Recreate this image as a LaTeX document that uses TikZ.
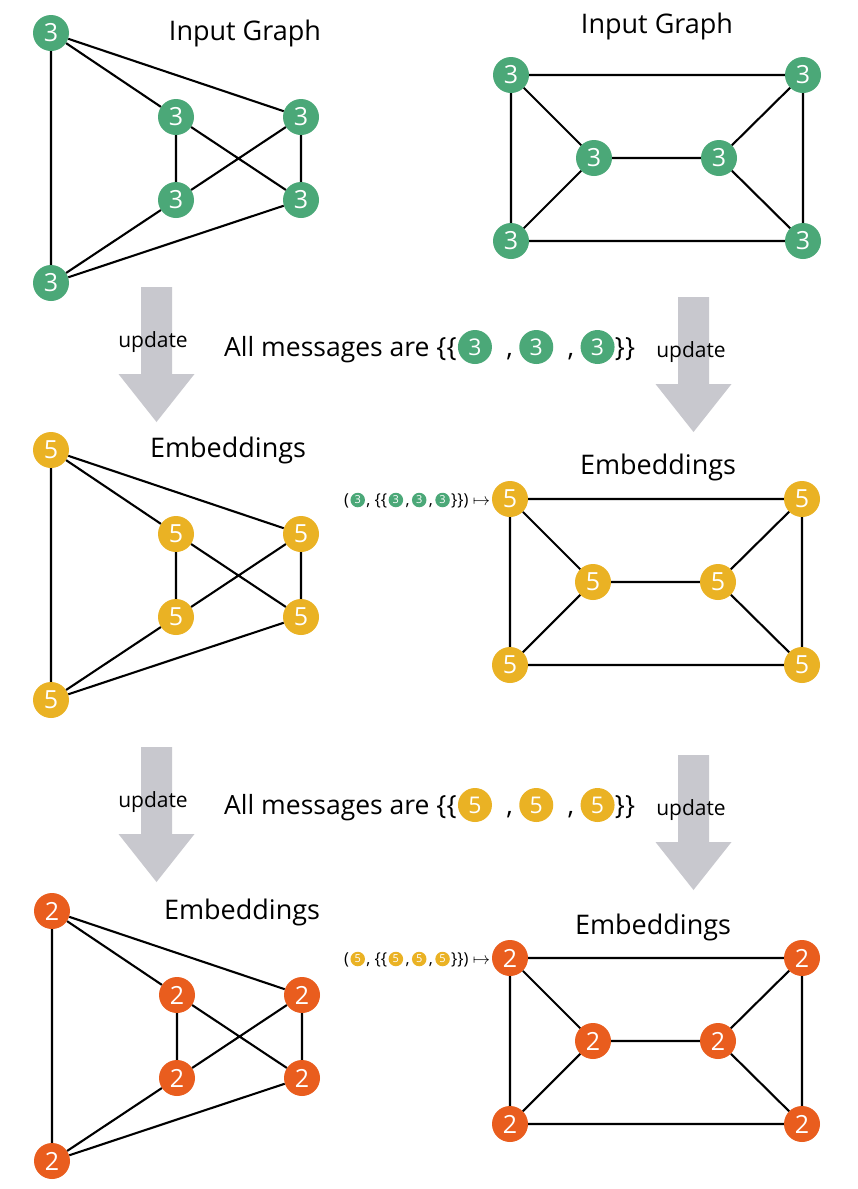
\documentclass[tikz,border=0pt]{standalone}
\usepackage{fontspec}
\setmainfont{Open Sans}
\definecolor{ngreen}{RGB}{75,168,120}
\definecolor{nyellow}{RGB}{234,178,36}
\definecolor{norange}{RGB}{233,93,30}
\definecolor{agray}{RGB}{200,200,206}
\tikzset{
  gn/.style={circle, inner sep=0pt, minimum size=36pt, text=white, font=\fontsize{25}{30}\selectfont},
  edge/.style={line width=2.1pt, black},
  title/.style={inner sep=0pt, font=\fontsize{27}{32}\selectfont},
  upd/.style={inner sep=0pt, font=\fontsize{21}{25}\selectfont},
  msg/.style={inner sep=0pt, font=\fontsize{26.5}{32}\selectfont},
  mcomma/.style={inner ysep=0pt, inner xsep=6pt, font=\fontsize{26.5}{32}\selectfont},
  mcir/.style={circle, inner sep=0pt, minimum size=34pt, text=white, font=\fontsize{23}{28}\selectfont},
  smsg/.style={inner sep=0pt, font=\fontsize{16.5}{20}\selectfont},
  scir/.style={circle, inner sep=0pt, minimum size=14.5pt, text=white, font=\fontsize{11}{13}\selectfont},
  pics/lgraph/.style 2 args={code={
    \node[gn, fill=#1] (-a) at (0,0) {#2};
    \node[gn, fill=#1] (-b) at (125,84) {#2};
    \node[gn, fill=#1] (-c) at (250,84) {#2};
    \node[gn, fill=#1] (-d) at (125,167) {#2};
    \node[gn, fill=#1] (-e) at (250,167) {#2};
    \node[gn, fill=#1] (-f) at (0,250) {#2};
    \draw[edge] (-a)--(-f) (-a)--(-b) (-a)--(-c) (-b)--(-d) (-b)--(-e)
                (-c)--(-d) (-c)--(-e) (-d)--(-f) (-e)--(-f);
  }},
  pics/rgraph/.style 2 args={code={
    \node[gn, fill=#1] (-tl) at (0,0) {#2};
    \node[gn, fill=#1] (-tr) at (292,0) {#2};
    \node[gn, fill=#1] (-ml) at (83,83) {#2};
    \node[gn, fill=#1] (-mr) at (208,83) {#2};
    \node[gn, fill=#1] (-bl) at (0,166) {#2};
    \node[gn, fill=#1] (-br) at (292,166) {#2};
    \draw[edge] (-tl)--(-tr) (-tl)--(-ml) (-tl)--(-bl) (-tr)--(-mr) (-tr)--(-br)
                (-ml)--(-mr) (-ml)--(-bl) (-mr)--(-br) (-bl)--(-br);
  }},
  pics/updarrow/.style={code={
    \fill[agray] (-15.5,0) -- (15.5,0) -- (15.5,87) -- (38,87) -- (0,135)
                 -- (-38,87) -- (-15.5,87) -- cycle;
  }},
}
\begin{document}
\begin{tikzpicture}[x=1pt, y=-1pt]
\useasboundingbox (0,0) rectangle (858,1189);
\fill[white] (0,0) rectangle (858,1189);

% graphs
\pic (g1) at (51,33) {lgraph={ngreen}{3}};
\pic (h1) at (511,75) {rgraph={ngreen}{3}};
\pic (g2) at (51,450) {lgraph={nyellow}{5}};
\pic (h2) at (510,499) {rgraph={nyellow}{5}};
\pic (g3) at (52,911) {lgraph={norange}{2}};
\pic (h3) at (510,958) {rgraph={norange}{2}};

% titles
\node[title] (t1) at (245,33) {Input Graph};
\node[title] (t2) at (657,26) {Input Graph};
\node[title] (t3) at (228,450) {Embeddings};
\node[title] (t4) at (658,467) {Embeddings};
\node[title] (t5) at (242,912) {Embeddings};
\node[title] (t6) at (653,927) {Embeddings};

% arrows
\pic (a1) at (156.5,287) {updarrow};
\pic (a2) at (693.5,297) {updarrow};
\pic (a3) at (156.5,747) {updarrow};
\pic (a4) at (693.5,755) {updarrow};
\node[upd] (u1) at (153,342) {update};
\node[upd] (u2) at (691,352) {update};
\node[upd] (u3) at (153,802) {update};
\node[upd] (u4) at (691,810) {update};

% message line 1
\node[msg, anchor=base west] (m1t) at (224,356) {All messages are \{\{};
\node[mcir, fill=ngreen, anchor=west] (m1c1) at ([xshift=1pt]m1t.east |- 0,347) {3};
\node[mcomma, anchor=base west] (m1k1) at (m1c1.east |- m1t.base) {\hspace*{8pt},};
\node[mcir, fill=ngreen, anchor=west] (m1c2) at (m1k1.east |- 0,347) {3};
\node[mcomma, anchor=base west] (m1k2) at (m1c2.east |- m1t.base) {\hspace*{8pt},};
\node[mcir, fill=ngreen, anchor=west] (m1c3) at (m1k2.east |- 0,347) {3};
\node[msg, anchor=base west] (m1e) at (m1c3.east |- m1t.base) {\}\}};

% message line 2
\node[msg, anchor=base west] (m2t) at (224,814) {All messages are \{\{};
\node[mcir, fill=nyellow, anchor=west] (m2c1) at ([xshift=1pt]m2t.east |- 0,805) {5};
\node[mcomma, anchor=base west] (m2k1) at (m2c1.east |- m2t.base) {\hspace*{8pt},};
\node[mcir, fill=nyellow, anchor=west] (m2c2) at (m2k1.east |- 0,805) {5};
\node[mcomma, anchor=base west] (m2k2) at (m2c2.east |- m2t.base) {\hspace*{8pt},};
\node[mcir, fill=nyellow, anchor=west] (m2c3) at (m2k2.east |- 0,805) {5};
\node[msg, anchor=base west] (m2e) at (m2c3.east |- m2t.base) {\}\}};

% small update rule, row 2
\node[smsg, anchor=base west] (s2a) at (344,505.5) {(};
\node[scir, fill=ngreen, anchor=west] (s2c1) at ([xshift=1pt]s2a.east |- 0,500) {3};
\node[smsg, anchor=base west] (s2b) at ([xshift=1pt]s2c1.east |- s2a.base) {, \{\{};
\node[scir, fill=ngreen, anchor=west] (s2c2) at ([xshift=1pt]s2b.east |- 0,500) {3};
\node[smsg, anchor=base west, inner xsep=2pt] (s2k1) at (s2c2.east |- s2a.base) {,};
\node[scir, fill=ngreen, anchor=west] (s2c3) at (s2k1.east |- 0,500) {3};
\node[smsg, anchor=base west, inner xsep=2pt] (s2k2) at (s2c3.east |- s2a.base) {,};
\node[scir, fill=ngreen, anchor=west] (s2c4) at (s2k2.east |- 0,500) {3};
\node[smsg, anchor=base west] (s2e) at ([xshift=1pt]s2c4.east |- s2a.base) {\}\})~$\mapsto$};

% small update rule, row 3
\node[smsg, anchor=base west] (s3a) at (344,964.5) {(};
\node[scir, fill=nyellow, anchor=west] (s3c1) at ([xshift=1pt]s3a.east |- 0,959) {5};
\node[smsg, anchor=base west] (s3b) at ([xshift=1pt]s3c1.east |- s3a.base) {, \{\{};
\node[scir, fill=nyellow, anchor=west] (s3c2) at ([xshift=1pt]s3b.east |- 0,959) {5};
\node[smsg, anchor=base west, inner xsep=2pt] (s3k1) at (s3c2.east |- s3a.base) {,};
\node[scir, fill=nyellow, anchor=west] (s3c3) at (s3k1.east |- 0,959) {5};
\node[smsg, anchor=base west, inner xsep=2pt] (s3k2) at (s3c3.east |- s3a.base) {,};
\node[scir, fill=nyellow, anchor=west] (s3c4) at (s3k2.east |- 0,959) {5};
\node[smsg, anchor=base west] (s3e) at ([xshift=1pt]s3c4.east |- s3a.base) {\}\})~$\mapsto$};
\end{tikzpicture}
\end{document}
